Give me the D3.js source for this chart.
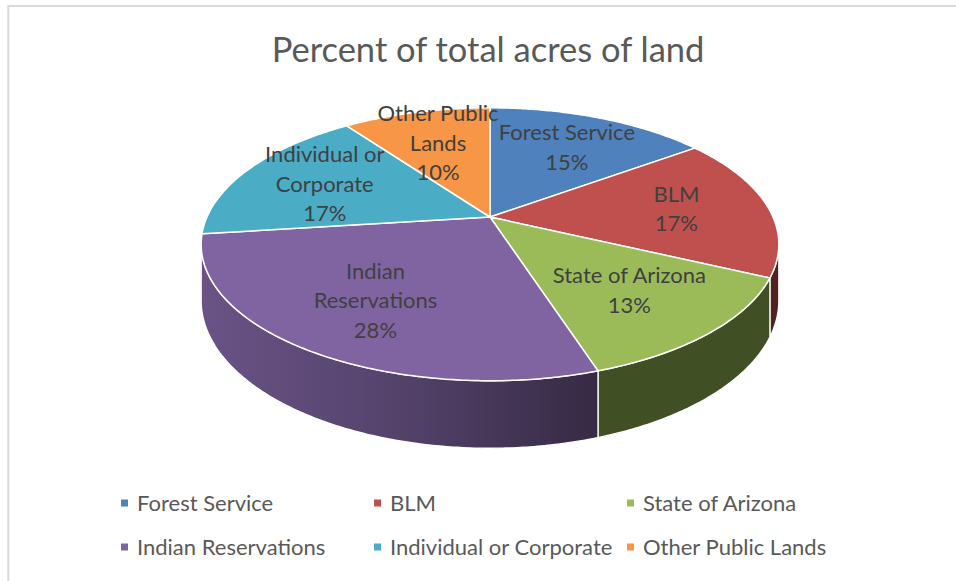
<!DOCTYPE html>
<html>
<head>
<meta charset="utf-8">
<script src="https://cdn.jsdelivr.net/npm/d3@7"></script>
<style>
  html, body { margin: 0; padding: 0; background: #fff; }
  svg { display: block; font-family: Lato, "Liberation Sans", sans-serif; }
</style>
</head>
<body>
<svg id="chart" width="956" height="581"></svg>
<script>
// Data
const categories = ['Forest Service', 'BLM', 'State of Arizona', 'Indian Reservations', 'Individual or Corporate', 'Other Public Lands'];
const percents = [15, 17, 13, 28, 17, 10];
const colors = ['#4f81bd', '#c0504d', '#9bbb59', '#8064a2', '#4bacc6', '#f79646'];
const labelLines = [['Forest Service'], ['BLM'], ['State of Arizona'], ['Indian', 'Reservations'], ['Individual or', 'Corporate'], ['Other Public', 'Lands']];
const chartTitle = 'Percent of total acres of land';

// 3D pie geometry (perspective ellipse)
const cx = 490, cy = 217;
const rx = 283;      // horizontal radius at mid depth
const ry = 131;      // vertical radius
const persp = 0.2;   // perspective strength
const depth = 54;    // wall height
const labelRadius = 0.67;

const svg = d3.select('#chart');
const defs = svg.append('defs');

// chart area border
svg.append('rect')
    .attr('x', 8.3).attr('y', 6)
    .attr('width', 1000).attr('height', 1000)
    .attr('fill', 'none')
    .attr('stroke', '#d9d9d9')
    .attr('stroke-width', 2);

// project an angle (clockwise from 12 o'clock) on the pie, at radius fraction r and drop h
function proj(a, r = 1, h = 0) {
    const c = Math.cos(a) * r, s = Math.sin(a) * r;
    const w = 1 + persp * c;
    return [cx + rx * s / w, cy - ry * c / w + h / w];
}

function arcPoints(a0, a1, h) {
    const n = Math.max(2, Math.ceil(Math.abs(a1 - a0) / 0.01));
    return d3.range(n + 1).map(i => proj(a0 + (a1 - a0) * i / n, 1, h));
}

function darker(color, f) {
    const c = d3.rgb(color);
    return d3.rgb(c.r * f, c.g * f, c.b * f).formatHex();
}

const pie = d3.pie().sort(null).value(d => d);
const slices = pie(percents);

const line = d3.line();
const visStart = Math.acos(-persp);
const visEnd = 2 * Math.PI - visStart;

// light side of the wall is on the left, dark from the front-right on
const lightX = proj(visEnd)[0];
const darkX = proj(Math.PI * 0.9)[0];

// Walls (front part only)
const walls = svg.append('g');
slices.forEach((d, i) => {
    const a0 = Math.max(d.startAngle, visStart);
    const a1 = Math.min(d.endAngle, visEnd);
    if (a1 <= a0) return;

    const grad = defs.append('linearGradient')
        .attr('id', 'wall' + i)
        .attr('gradientUnits', 'userSpaceOnUse')
        .attr('x1', lightX).attr('y1', 0)
        .attr('x2', darkX).attr('y2', 0);
    grad.append('stop').attr('offset', 0).attr('stop-color', darker(colors[i], 0.83));
    grad.append('stop').attr('offset', 0.5).attr('stop-color', darker(colors[i], 0.66));
    grad.append('stop').attr('offset', 1).attr('stop-color', darker(colors[i], 0.42));

    const outline = arcPoints(a0, a1, 0).concat(arcPoints(a1, a0, depth));
    walls.append('path')
        .attr('d', line(outline) + 'Z')
        .attr('fill', `url(#wall${i})`)
        .attr('stroke', '#fff')
        .attr('stroke-width', 1.3)
        .attr('stroke-linejoin', 'round');
});

// Top faces
const tops = svg.append('g');
slices.forEach((d, i) => {
    const pts = [[cx, cy]].concat(arcPoints(d.startAngle, d.endAngle, 0));
    tops.append('path')
        .attr('d', line(pts) + 'Z')
        .attr('fill', colors[i])
        .attr('stroke', '#fff')
        .attr('stroke-width', 1.5)
        .attr('stroke-linejoin', 'round');
});

// Data labels
const labelSize = 22, lineGap = 29.5;
const labels = svg.append('g')
    .attr('font-size', labelSize)
    .attr('fill', '#404040')
    .attr('text-anchor', 'middle');
slices.forEach((d, i) => {
    const mid = (d.startAngle + d.endAngle) / 2;
    const [lx, ly] = proj(mid, labelRadius, 0);
    const lines = labelLines[i].concat([percents[i] + '%']);
    const top = ly - (lines.length - 1) * lineGap / 2;
    lines.forEach((t, k) => {
        labels.append('text')
            .attr('x', lx)
            .attr('y', top + k * lineGap)
            .attr('dy', '0.35em')
            .text(t);
    });
});

// Title
svg.append('text')
    .attr('x', 488)
    .attr('y', 62)
    .attr('text-anchor', 'middle')
    .attr('font-size', 34.5)
    .attr('fill', '#595959')
    .text(chartTitle);

// Legend
const legend = svg.append('g').attr('font-size', 22).attr('fill', '#595959');
categories.forEach((name, i) => {
    const col = i % 3, row = Math.floor(i / 3);
    const tx = 137 + col * 253;
    const ty = 503 + row * 44;
    legend.append('rect')
        .attr('x', tx - 16).attr('y', ty - 3.5)
        .attr('width', 7).attr('height', 7)
        .attr('fill', colors[i]);
    legend.append('text')
        .attr('x', tx)
        .attr('y', ty)
        .attr('dy', '0.35em')
        .text(name);
});
</script>
</body>
</html>
